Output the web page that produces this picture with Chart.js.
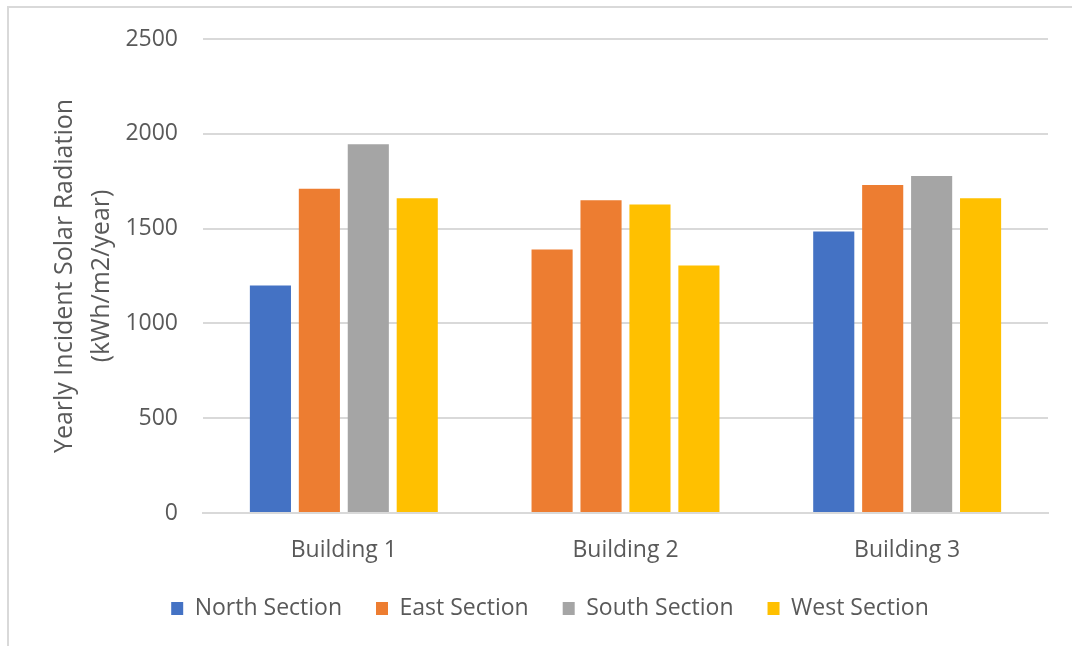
<!DOCTYPE html>
<html>
<head>
<meta charset="utf-8">
<title>Yearly Incident Solar Radiation</title>
<script src="https://cdn.jsdelivr.net/npm/chart.js@4/dist/chart.umd.min.js"></script>
<style>
  html, body { margin: 0; padding: 0; background: #fff; overflow: hidden; }
  #frame {
    position: absolute; left: 7px; top: 6px; width: 1100px; height: 700px;
    border-top: 2px solid #d9d9d9; border-left: 2px solid #d9d9d9;
  }
  #chart { position: absolute; left: 0; top: 0; }
</style>
</head>
<body>
<div id="frame"></div>
<canvas id="chart" width="1072" height="646"></canvas>
<script>
  'use strict';

  const buildings = ['Building 1', 'Building 2', 'Building 3'];
  const sections = ['North Section', 'East Section', 'South Section', 'West Section'];

  // kWh/m2/year per section, one value per building
  const north = [1200, 1390, 1485];
  const east = [1710, 1650, 1730];
  const south = [1945, 1627, 1778];
  const west = [1660, 1305, 1660];

  const yTicks = [0, 500, 1000, 1500, 2000, 2500];

  const BLUE = '#4472C4';
  const ORANGE = '#ED7D31';
  const GRAY = '#A5A5A5';
  const YELLOW = '#FFC000';

  // Building 2 bars were coloured individually in the workbook
  const northColors = [BLUE, ORANGE, BLUE];
  const eastColors = [ORANGE, ORANGE, ORANGE];
  const southColors = [GRAY, YELLOW, GRAY];
  const westColors = [YELLOW, YELLOW, YELLOW];

  const FONT = 'Open Sans';
  const TEXT = '#595959';

  function makeSet(label, data, colors) {
    return {
      label: label,
      data: data,
      backgroundColor: colors,
      borderWidth: 0,
      categoryPercentage: 0.695,
      barPercentage: 0.84
    };
  }

  const ctx = document.getElementById('chart').getContext('2d');

  new Chart(ctx, {
    type: 'bar',
    data: {
      labels: buildings,
      datasets: [
        makeSet(sections[0], north, northColors),
        makeSet(sections[1], east, eastColors),
        makeSet(sections[2], south, southColors),
        makeSet(sections[3], west, westColors)
      ]
    },
    options: {
      responsive: false,
      animation: false,
      // extra left padding keeps the legend centred a little right of the canvas middle
      layout: { padding: { top: 39, right: 24, bottom: 16, left: 52 } },
      plugins: {
        tooltip: { enabled: false },
        legend: {
          position: 'bottom',
          labels: {
            boxWidth: 12,
            boxHeight: 13,
            padding: 34,
            color: TEXT,
            font: { family: FONT, size: 23 }
          }
        }
      },
      scales: {
        x: {
          grid: { display: false, drawTicks: false },
          border: { display: true, color: '#d9d9d9', width: 2 },
          ticks: { color: TEXT, padding: 24, font: { family: FONT, size: 23 } },
          afterFit: function (scale) { scale.height = 50; }
        },
        y: {
          min: 0,
          max: 2500,
          afterBuildTicks: function (scale) {
            scale.ticks = yTicks.map(function (v) { return { value: v }; });
          },
          grid: { color: '#d9d9d9', lineWidth: 2, drawTicks: false },
          border: { display: false },
          ticks: {
            color: TEXT,
            padding: 25,
            font: { family: FONT, size: 23 },
            callback: function (value) { return String(value); }
          },
          title: {
            display: true,
            text: ['Yearly Incident Solar Radiation', '(kWh/m2/year)'],
            color: TEXT,
            font: { family: FONT, size: 25, lineHeight: 1.45 },
            padding: { top: -5, bottom: 0 }
          },
          afterFit: function (scale) { scale.width = 151; }
        }
      }
    }
  });
</script>
</body>
</html>
